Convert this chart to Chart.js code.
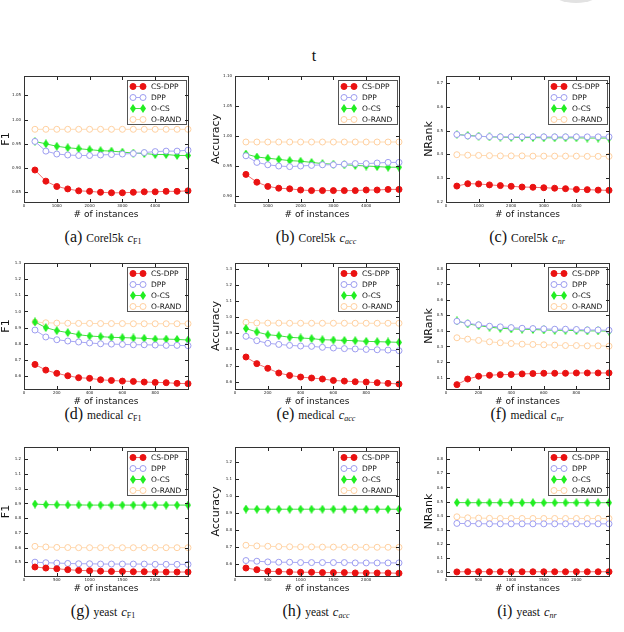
<!DOCTYPE html>
<html>
<head>
<meta charset="utf-8">
<script src="https://cdn.jsdelivr.net/npm/chart.js@4.4.1/dist/chart.umd.min.js"></script>
<style>
  body { margin: 0; width: 624px; height: 632px; background: #fff; position: relative; overflow: hidden; }
  .box { position: absolute; }
  .box canvas { display: block; }
  .spine { position: absolute; box-sizing: border-box; border: 1px solid #333; pointer-events: none; }
  .cap { position: absolute; transform: translate(-50%, -50%); white-space: nowrap;
         font-family: "Liberation Serif", "DejaVu Serif", serif; color: #111; line-height: 1; }
  .cap .lt { font-size: 16px; }
  .cap .ds { font-size: 11.5px; }
  .cap i { font-size: 12.5px; }
  .cap sub { font-size: 8px; vertical-align: -2px; }
  .top-t { position: absolute; left: 314px; top: 56px; transform: translate(-50%, -50%);
           font-family: "Liberation Serif", serif; font-size: 16px; color: #111; }
  .blob { position: absolute; left: 551px; top: -21px; width: 50px; height: 24px;
          border-radius: 50%; background: #e2e2e2; }
</style>
</head>
<body>
<div class="blob"></div>
<div class="top-t">t</div>

<div class="cap" style="left:103px;top:237px"><span class="lt">(a)</span> <span class="ds">Corel5k</span> <i>c</i><sub>F1</sub></div>
<div class="cap" style="left:316px;top:237px"><span class="lt">(b)</span> <span class="ds">Corel5k</span> <i>c</i><sub><i style="font-size:8px">acc</i></sub></div>
<div class="cap" style="left:527px;top:237px"><span class="lt">(c)</span> <span class="ds">Corel5k</span> <i>c</i><sub><i style="font-size:8px">nr</i></sub></div>
<div class="cap" style="left:103px;top:414px"><span class="lt">(d)</span> <span class="ds">medical</span> <i>c</i><sub>F1</sub></div>
<div class="cap" style="left:316px;top:414px"><span class="lt">(e)</span> <span class="ds">medical</span> <i>c</i><sub><i style="font-size:8px">acc</i></sub></div>
<div class="cap" style="left:527px;top:414px"><span class="lt">(f)</span> <span class="ds">medical</span> <i>c</i><sub><i style="font-size:8px">nr</i></sub></div>
<div class="cap" style="left:103px;top:611px"><span class="lt">(g)</span> <span class="ds">yeast</span> <i>c</i><sub>F1</sub></div>
<div class="cap" style="left:316px;top:611px"><span class="lt">(h)</span> <span class="ds">yeast</span> <i>c</i><sub><i style="font-size:8px">acc</i></sub></div>
<div class="cap" style="left:527px;top:611px"><span class="lt">(i)</span> <span class="ds">yeast</span> <i>c</i><sub><i style="font-size:8px">nr</i></sub></div>

<script>
// x positions (# of instances)
const corelX = [333, 667, 1000, 1333, 1667, 2000, 2333, 2667, 3000, 3333, 3667, 4000, 4333, 4667, 5000];
const medicalX = [67, 133, 200, 267, 333, 400, 467, 533, 600, 667, 733, 800, 867, 933, 1000];
const yeastX = [167, 333, 500, 667, 833, 1000, 1167, 1333, 1500, 1667, 1833, 2000, 2167, 2333, 2500];

const corelXTicks = [0, 1000, 2000, 3000, 4000];
const medicalXTicks = [0, 200, 400, 600, 800];
const yeastXTicks = [0, 500, 1000, 1500, 2000];

const seriesNames = ["CS-DPP", "DPP", "O-CS", "O-RAND"];

// (a) Corel5k F1
const corelF1CsDpp = [0.896, 0.873, 0.862, 0.857, 0.853, 0.852, 0.850, 0.849, 0.849, 0.850, 0.851, 0.851, 0.852, 0.852, 0.853];
const corelF1Dpp = [0.955, 0.935, 0.929, 0.927, 0.926, 0.926, 0.927, 0.928, 0.929, 0.930, 0.932, 0.934, 0.935, 0.935, 0.937];
const corelF1Ocs = [0.955, 0.950, 0.945, 0.942, 0.940, 0.938, 0.936, 0.935, 0.933, 0.931, 0.930, 0.928, 0.928, 0.926, 0.926];
const corelF1Orand = [0.980, 0.980, 0.980, 0.980, 0.980, 0.980, 0.980, 0.980, 0.980, 0.980, 0.980, 0.980, 0.980, 0.980, 0.980];
const corelF1Ticks = [0.85, 0.90, 0.95, 1.00, 1.05];

// (b) Corel5k accuracy
const corelAccCsDpp = [0.936, 0.923, 0.916, 0.913, 0.912, 0.910, 0.909, 0.909, 0.909, 0.909, 0.909, 0.910, 0.910, 0.911, 0.911];
const corelAccDpp = [0.967, 0.956, 0.952, 0.950, 0.949, 0.950, 0.951, 0.952, 0.952, 0.953, 0.954, 0.954, 0.955, 0.956, 0.956];
const corelAccOcs = [0.970, 0.965, 0.963, 0.961, 0.959, 0.958, 0.956, 0.954, 0.953, 0.952, 0.951, 0.950, 0.949, 0.948, 0.948];
const corelAccOrand = [0.990, 0.990, 0.990, 0.990, 0.990, 0.990, 0.990, 0.990, 0.990, 0.990, 0.990, 0.990, 0.990, 0.990, 0.990];
const corelAccTicks = [0.90, 0.95, 1.00, 1.05, 1.10];

// (c) Corel5k NRank
const corelNrCsDpp = [0.267, 0.277, 0.276, 0.272, 0.269, 0.266, 0.263, 0.262, 0.260, 0.258, 0.256, 0.253, 0.252, 0.250, 0.249];
const corelNrDpp = [0.484, 0.478, 0.476, 0.475, 0.474, 0.474, 0.474, 0.474, 0.474, 0.474, 0.474, 0.474, 0.474, 0.474, 0.474];
const corelNrOcs = [0.484, 0.480, 0.477, 0.474, 0.473, 0.472, 0.471, 0.471, 0.470, 0.470, 0.470, 0.470, 0.469, 0.469, 0.469];
const corelNrOrand = [0.399, 0.397, 0.396, 0.395, 0.394, 0.394, 0.394, 0.393, 0.393, 0.393, 0.393, 0.393, 0.392, 0.392, 0.392];
const corelNrTicks = [0.2, 0.3, 0.4, 0.5, 0.6, 0.7];

// (d) medical F1
const medF1CsDpp = [0.672, 0.637, 0.617, 0.602, 0.590, 0.586, 0.577, 0.573, 0.569, 0.567, 0.563, 0.561, 0.559, 0.555, 0.553];
const medF1Dpp = [0.885, 0.842, 0.825, 0.817, 0.811, 0.805, 0.800, 0.798, 0.796, 0.794, 0.794, 0.792, 0.790, 0.790, 0.788];
const medF1Ocs = [0.935, 0.900, 0.881, 0.869, 0.856, 0.848, 0.844, 0.840, 0.838, 0.836, 0.834, 0.829, 0.829, 0.827, 0.823];
const medF1Orand = [0.935, 0.930, 0.928, 0.927, 0.926, 0.926, 0.925, 0.925, 0.925, 0.924, 0.924, 0.924, 0.924, 0.924, 0.924];
const medF1Ticks = [0.6, 0.7, 0.8, 0.9, 1.0, 1.1, 1.2, 1.3];

// (e) medical accuracy
const medAccCsDpp = [0.753, 0.712, 0.683, 0.654, 0.639, 0.629, 0.623, 0.617, 0.608, 0.604, 0.600, 0.598, 0.594, 0.590, 0.586];
const medAccDpp = [0.881, 0.854, 0.838, 0.831, 0.825, 0.821, 0.819, 0.813, 0.809, 0.805, 0.803, 0.800, 0.798, 0.796, 0.792];
const medAccOcs = [0.929, 0.908, 0.891, 0.885, 0.875, 0.871, 0.867, 0.860, 0.858, 0.856, 0.854, 0.850, 0.848, 0.846, 0.844];
const medAccOrand = [0.968, 0.964, 0.963, 0.963, 0.962, 0.962, 0.962, 0.962, 0.962, 0.962, 0.962, 0.962, 0.962, 0.962, 0.962];
const medAccTicks = [0.6, 0.7, 0.8, 0.9, 1.0, 1.1, 1.2, 1.3];

// (f) medical NRank
const medNrCsDpp = [0.055, 0.091, 0.109, 0.115, 0.119, 0.120, 0.124, 0.126, 0.128, 0.128, 0.128, 0.130, 0.130, 0.130, 0.130];
const medNrDpp = [0.462, 0.449, 0.439, 0.430, 0.426, 0.421, 0.417, 0.415, 0.413, 0.411, 0.411, 0.409, 0.406, 0.406, 0.404];
const medNrOcs = [0.464, 0.445, 0.434, 0.424, 0.417, 0.413, 0.411, 0.409, 0.406, 0.404, 0.404, 0.402, 0.400, 0.400, 0.398];
const medNrOrand = [0.356, 0.347, 0.339, 0.330, 0.324, 0.319, 0.315, 0.313, 0.311, 0.309, 0.306, 0.306, 0.304, 0.304, 0.302];
const medNrTicks = [0.1, 0.2, 0.3, 0.4, 0.5, 0.6, 0.7, 0.8];

// (g) yeast F1
const yeastF1CsDpp = [0.469, 0.462, 0.457, 0.451, 0.446, 0.444, 0.441, 0.439, 0.439, 0.437, 0.437, 0.435, 0.435, 0.435, 0.435];
const yeastF1Dpp = [0.502, 0.498, 0.496, 0.493, 0.491, 0.491, 0.489, 0.489, 0.489, 0.489, 0.489, 0.487, 0.487, 0.487, 0.487];
const yeastF1Ocs = [0.896, 0.892, 0.891, 0.890, 0.890, 0.889, 0.889, 0.889, 0.889, 0.889, 0.889, 0.889, 0.889, 0.889, 0.889];
const yeastF1Orand = [0.609, 0.605, 0.602, 0.601, 0.600, 0.600, 0.600, 0.600, 0.600, 0.600, 0.600, 0.600, 0.600, 0.600, 0.600];
const yeastF1Ticks = [0.5, 0.6, 0.7, 0.8, 0.9, 1.0, 1.1, 1.2];

// (h) yeast accuracy
const yeastAccCsDpp = [0.578, 0.568, 0.559, 0.557, 0.555, 0.553, 0.553, 0.551, 0.551, 0.551, 0.549, 0.549, 0.549, 0.549, 0.547];
const yeastAccDpp = [0.622, 0.618, 0.614, 0.612, 0.612, 0.610, 0.610, 0.610, 0.610, 0.610, 0.608, 0.608, 0.608, 0.608, 0.608];
const yeastAccOcs = [0.925, 0.924, 0.924, 0.924, 0.924, 0.924, 0.924, 0.924, 0.924, 0.924, 0.924, 0.924, 0.924, 0.924, 0.924];
const yeastAccOrand = [0.712, 0.708, 0.706, 0.704, 0.703, 0.702, 0.702, 0.701, 0.701, 0.700, 0.700, 0.700, 0.700, 0.700, 0.700];
const yeastAccTicks = [0.6, 0.7, 0.8, 0.9, 1.0, 1.1, 1.2];

// (i) yeast NRank
const yeastNrCsDpp = [0.001, 0.003, 0.003, 0.002, 0.002, 0.002, 0.002, 0.002, 0.002, 0.002, 0.002, 0.002, 0.002, 0.002, 0.002];
const yeastNrDpp = [0.345, 0.344, 0.343, 0.342, 0.342, 0.342, 0.342, 0.342, 0.342, 0.342, 0.342, 0.342, 0.342, 0.342, 0.342];
const yeastNrOcs = [0.493, 0.492, 0.492, 0.492, 0.492, 0.492, 0.492, 0.492, 0.492, 0.492, 0.492, 0.492, 0.492, 0.492, 0.492];
const yeastNrOrand = [0.392, 0.385, 0.383, 0.381, 0.380, 0.380, 0.380, 0.380, 0.380, 0.380, 0.380, 0.380, 0.380, 0.380, 0.380];
const yeastNrTicks = [0.0, 0.1, 0.2, 0.3, 0.4, 0.5, 0.6, 0.7, 0.8];

// a thin vertical diamond, like matplotlib's "d" marker
function thinDiamond(color) {
  const c = document.createElement("canvas");
  c.width = 6;
  c.height = 9;
  const g = c.getContext("2d");
  g.fillStyle = color;
  g.beginPath();
  g.moveTo(3, 0);
  g.lineTo(6, 4.5);
  g.lineTo(3, 9);
  g.lineTo(0, 4.5);
  g.closePath();
  g.fill();
  return c;
}

const seriesStyles = [
  { borderColor: "#f07070", pointBackgroundColor: "#ea1212", pointBorderColor: "#ea1212", pointStyle: "circle", pointRadius: 3 },
  { borderColor: "#a8a8f4", pointBackgroundColor: "#ffffff", pointBorderColor: "#9c9cf0", pointStyle: "circle", pointRadius: 3 },
  { borderColor: "#44dd44", pointBackgroundColor: "#22ee22", pointBorderColor: "#22ee22", pointStyle: thinDiamond("#22ee22"), pointRadius: 3.5 },
  { borderColor: "#ffdcb4", pointBackgroundColor: "#ffffff", pointBorderColor: "#ffd0a0", pointStyle: "circle", pointRadius: 3 },
];

const cols = [
  { left: 0, axisW: 24, width: 194 },
  { left: 210, axisW: 25, width: 195 },
  { left: 423, axisW: 23, width: 192 },
];
const rows = [
  { top: 66, height: 154 },
  { top: 253, height: 154 },
  { top: 437, height: 157 },
];

const panels = [
  { row: 0, col: 0, x: corelX, xMax: 5000, xTicks: corelXTicks, series: [corelF1CsDpp, corelF1Dpp, corelF1Ocs, corelF1Orand], yMin: 0.83, yMax: 1.09, yTicks: corelF1Ticks, dec: 2, yTitle: "F1" },
  { row: 0, col: 1, x: corelX, xMax: 5000, xTicks: corelXTicks, series: [corelAccCsDpp, corelAccDpp, corelAccOcs, corelAccOrand], yMin: 0.89, yMax: 1.10, yTicks: corelAccTicks, dec: 2, yTitle: "Accuracy" },
  { row: 0, col: 2, x: corelX, xMax: 5000, xTicks: corelXTicks, series: [corelNrCsDpp, corelNrDpp, corelNrOcs, corelNrOrand], yMin: 0.20, yMax: 0.73, yTicks: corelNrTicks, dec: 1, yTitle: "NRank" },
  { row: 1, col: 0, x: medicalX, xMax: 1000, xTicks: medicalXTicks, series: [medF1CsDpp, medF1Dpp, medF1Ocs, medF1Orand], yMin: 0.52, yMax: 1.30, yTicks: medF1Ticks, dec: 1, yTitle: "F1" },
  { row: 1, col: 1, x: medicalX, xMax: 1000, xTicks: medicalXTicks, series: [medAccCsDpp, medAccDpp, medAccOcs, medAccOrand], yMin: 0.555, yMax: 1.335, yTicks: medAccTicks, dec: 1, yTitle: "Accuracy" },
  { row: 1, col: 2, x: medicalX, xMax: 1000, xTicks: medicalXTicks, series: [medNrCsDpp, medNrDpp, medNrOcs, medNrOrand], yMin: 0.027, yMax: 0.836, yTicks: medNrTicks, dec: 1, yTitle: "NRank" },
  { row: 2, col: 0, x: yeastX, xMax: 2500, xTicks: yeastXTicks, series: [yeastF1CsDpp, yeastF1Dpp, yeastF1Ocs, yeastF1Orand], yMin: 0.408, yMax: 1.283, yTicks: yeastF1Ticks, dec: 1, yTitle: "F1" },
  { row: 2, col: 1, x: yeastX, xMax: 2500, xTicks: yeastXTicks, series: [yeastAccCsDpp, yeastAccDpp, yeastAccOcs, yeastAccOrand], yMin: 0.531, yMax: 1.29, yTicks: yeastAccTicks, dec: 1, yTitle: "Accuracy" },
  { row: 2, col: 2, x: yeastX, xMax: 2500, xTicks: yeastXTicks, series: [yeastNrCsDpp, yeastNrDpp, yeastNrOcs, yeastNrOrand], yMin: -0.028, yMax: 0.887, yTicks: yeastNrTicks, dec: 1, yTitle: "NRank" },
];

function drawMarker(ctx, ds, x, y) {
  ctx.save();
  ctx.fillStyle = ds.pointBackgroundColor;
  ctx.strokeStyle = ds.pointBorderColor;
  ctx.lineWidth = 1;
  Chart.helpers.drawPoint(ctx, { pointStyle: ds.pointStyle, radius: ds.pointRadius, rotation: 0, borderWidth: 1 }, x, y);
  ctx.restore();
}

// legend in the top right corner, then the box round the plot with inward ticks
function framePlugin(p) {
  return {
    id: "frame",
    afterDraw(chart) {
      const { ctx, chartArea: a, scales } = chart;
      const L = Math.round(a.left), R = Math.round(a.right), T = Math.round(a.top), B = Math.round(a.bottom);
      ctx.save();

      const w = 59, h = 44;
      const x0 = R - 2 - w;
      const y0 = T + 4;
      ctx.fillStyle = "#555";
      ctx.fillRect(x0, y0, w + 1, h + 1);
      ctx.fillStyle = "#fff";
      ctx.fillRect(x0 + 1, y0 + 1, w - 1, h - 1);
      ctx.font = "7.5px 'DejaVu Sans'";
      ctx.textBaseline = "middle";
      chart.data.datasets.forEach((ds, i) => {
        const yy = y0 + 6.5 + i * 11;
        ctx.strokeStyle = ds.borderColor;
        ctx.lineWidth = 1;
        ctx.beginPath();
        ctx.moveTo(x0 + 6, yy);
        ctx.lineTo(x0 + 16, yy);
        ctx.stroke();
        drawMarker(ctx, ds, x0 + 6, yy);
        drawMarker(ctx, ds, x0 + 16, yy);
        ctx.fillStyle = "#111";
        ctx.fillText(ds.label, x0 + 24, yy + 0.5);
      });

      ctx.fillStyle = "#222";
      ctx.fillRect(L, T, R - L + 1, 1);
      ctx.fillRect(L, B, R - L + 1, 1);
      ctx.fillRect(L, T, 1, B - T + 1);
      ctx.fillRect(R, T, 1, B - T + 1);
      p.xTicks.forEach((v) => {
        const px = Math.round(scales.x.getPixelForValue(v));
        ctx.fillRect(px, B - 3, 1, 3);
        ctx.fillRect(px, T + 1, 1, 3);
      });
      p.yTicks.forEach((v) => {
        const py = Math.round(scales.y.getPixelForValue(v));
        ctx.fillRect(L + 1, py, 3, 1);
        ctx.fillRect(R - 3, py, 3, 1);
      });
      ctx.restore();
    },
  };
}

panels.forEach((p) => {
  const c = cols[p.col];
  const r = rows[p.row];
  const wrap = document.createElement("div");
  wrap.className = "box";
  wrap.style.left = c.left + "px";
  wrap.style.top = r.top + "px";
  const canvas = document.createElement("canvas");
  canvas.width = c.width;
  canvas.height = r.height;
  wrap.appendChild(canvas);
  document.body.appendChild(wrap);

  const chart = new Chart(canvas, {
    type: "line",
    data: {
      datasets: p.series.map((vals, i) => ({
        label: seriesNames[i],
        data: p.x.map((x, j) => ({ x: x, y: vals[j] })),
        borderWidth: 1,
        pointBorderWidth: 1,
        clip: false,
        ...seriesStyles[i],
      })),
    },
    options: {
      responsive: false,
      animation: false,
      layout: { padding: { top: 10, right: 6, left: 0, bottom: 0 } },
      plugins: {
        legend: { display: false },
        tooltip: { enabled: false },
      },
      scales: {
        x: {
          type: "linear",
          min: 0,
          max: p.xMax,
          grid: { display: false, drawTicks: false },
          border: { display: true, color: "#222", width: 1 },
          afterBuildTicks: (s) => { s.ticks = p.xTicks.map((v) => ({ value: v })); },
          afterFit: (s) => { s.height = 18; },
          ticks: { font: { size: 4, family: "'DejaVu Sans'" }, color: "#222", padding: 2, maxRotation: 0, autoSkip: false, callback: (v) => String(v) },
          title: { display: true, text: "# of instances", font: { size: 9, family: "'DejaVu Sans'" }, color: "#111", padding: 0 },
        },
        y: {
          type: "linear",
          min: p.yMin,
          max: p.yMax,
          grid: { display: false, drawTicks: false },
          border: { display: true, color: "#222", width: 1 },
          afterBuildTicks: (s) => { s.ticks = p.yTicks.map((v) => ({ value: v })); },
          afterFit: (s) => { s.width = c.axisW; },
          ticks: { font: { size: 4, family: "'DejaVu Sans'" }, color: "#222", padding: 3, autoSkip: false, callback: (v) => Number(v).toFixed(p.dec) },
          title: { display: true, text: p.yTitle, font: { size: 11, family: "'DejaVu Sans'" }, color: "#111", padding: 0 },
        },
      },
    },
    plugins: [framePlugin(p)],
  });

  // plot box as a thin outline laid over the chart area
  const a = chart.chartArea;
  const spine = document.createElement("div");
  spine.className = "spine";
  spine.style.left = c.left + Math.round(a.left) + "px";
  spine.style.top = r.top + Math.round(a.top) + "px";
  spine.style.width = Math.round(a.right) - Math.round(a.left) + 1 + "px";
  spine.style.height = Math.round(a.bottom) - Math.round(a.top) + 1 + "px";
  document.body.appendChild(spine);
});
</script>
</body>
</html>
